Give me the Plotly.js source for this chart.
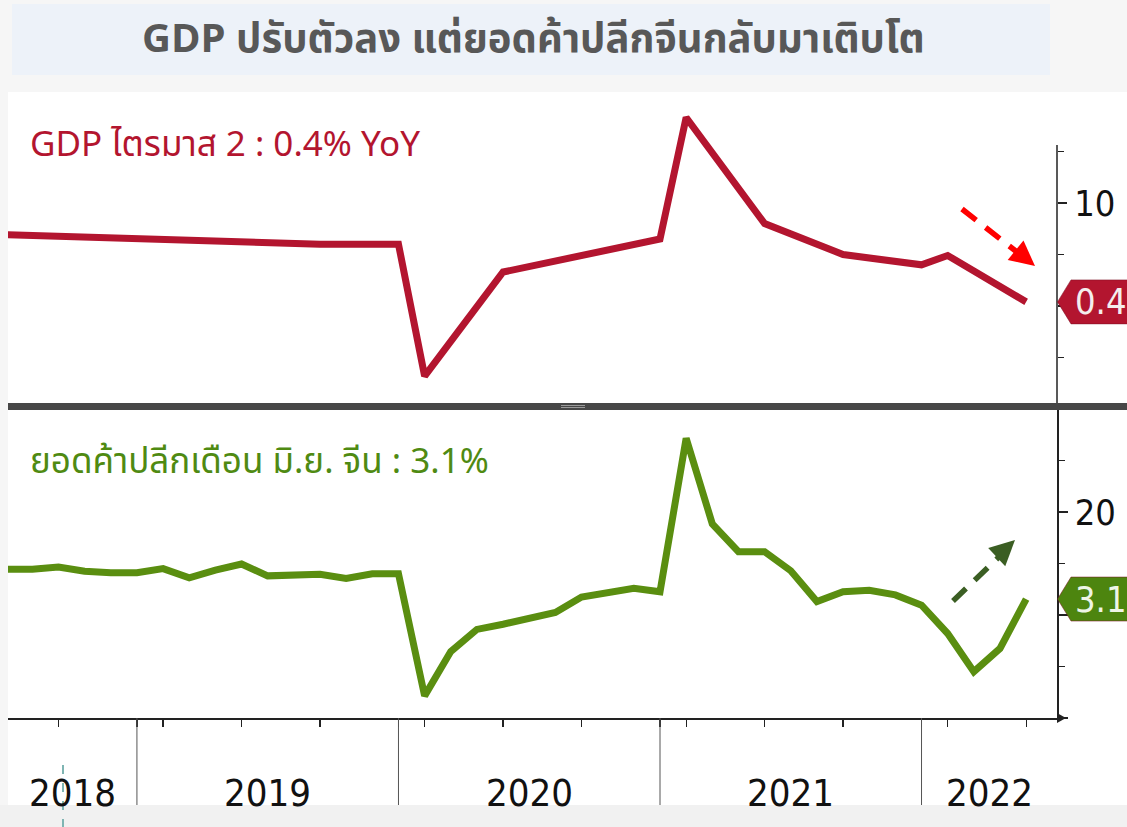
<!DOCTYPE html>
<html>
<head>
<meta charset="utf-8">
<script src="https://cdn.plot.ly/plotly-3.0.1.min.js"></script>
<style>
  html, body { margin: 0; padding: 0; background: #f6f6f6; }
  #chart { width: 1127px; height: 827px; }
</style>
</head>
<body>
<div id="chart"></div>
<script>
// ---------------- DATA ----------------
// Axis positions: one slot per data month (Jan/Feb not reported, so each year runs Mar..Dec)
const axisMonths = [
  '2018-06','2018-07','2018-08','2018-09','2018-10','2018-11','2018-12',
  '2019-03','2019-04','2019-05','2019-06','2019-07','2019-08','2019-09','2019-10','2019-11','2019-12',
  '2020-03','2020-04','2020-05','2020-06','2020-07','2020-08','2020-09','2020-10','2020-11','2020-12',
  '2021-03','2021-04','2021-05','2021-06','2021-07','2021-08','2021-09','2021-10','2021-11','2021-12',
  '2022-03','2022-04','2022-05','2022-06'
];

// China GDP, % YoY (quarterly)
const gdpQuarters = [
  '2018-06','2018-09','2018-12',
  '2019-03','2019-06','2019-09','2019-12',
  '2020-03','2020-06','2020-09','2020-12',
  '2021-03','2021-06','2021-09','2021-12',
  '2022-03','2022-06'
];
const gdpValues = [7.0, 6.8, 6.6, 6.4, 6.2, 6.0, 6.0, -6.8, 3.3, 4.9, 6.5, 18.3, 8.0, 5.0, 4.0, 4.9, 0.4];

// China retail sales, % YoY (monthly)
const retailMonths = axisMonths.slice(1);
const retailValues = [
  8.9, 8.9, 9.3, 8.5, 8.2, 8.2,
  9.0, 7.2, 8.7, 9.9, 7.6, 7.6, 7.9, 7.1, 8.0, 8.0,
  -15.7, -7.1, -2.8, -1.8, -0.8, 0.5, 3.5, 4.3, 5.2, 4.5,
  34.3, 17.7, 12.3, 12.3, 8.6, 2.6, 4.5, 4.8, 3.9, 1.9,
  -3.6, -11.0, -6.5, 3.1
];

const quarterTicks = axisMonths.filter(m => ['03','06','09','12'].includes(m.slice(5)));
const yearSeparators = ['2018-12','2019-12','2020-12','2021-12'];
const yearLabels = ['2018','2019','2020','2021','2022'];

const titleText = 'GDP ปรับตัวลง แต่ยอดค้าปลีกจีนกลับมาเติบโต';
const gdpLabel = 'GDP ไตรมาส 2 : 0.4% YoY';
const retailLabel = 'ยอดค้าปลีกเดือน มิ.ย. จีน : 3.1%';

// ---------------- STYLE / HELPERS ----------------
const W = 1127, H = 827;
const px = x => x / W;
const py = y => 1 - y / H;
const idx = m => axisMonths.indexOf(m);

const RED = '#b3152f';
const GREEN = '#5a8e10';
const TXT_GREEN = '#4f8a12';
const AXIS = '#222';
const NUMFONT = '"Liberation Sans Narrow", "DejaVu Sans Condensed", "Open Sans", sans-serif';
const THAIFONT = '"Noto Sans Thai", "Noto Sans", "Open Sans", sans-serif';

const xRange = [1.07, 41.18];

const traces = [
  {
    x: gdpQuarters.map(idx), y: gdpValues, xaxis: 'x', yaxis: 'y2',
    type: 'scatter', mode: 'lines', line: {color: RED, width: 7}, hoverinfo: 'skip'
  },
  {
    x: retailMonths.map(idx), y: retailValues, xaxis: 'x', yaxis: 'y',
    type: 'scatter', mode: 'lines', line: {color: GREEN, width: 7}, hoverinfo: 'skip'
  }
];

const lastGdp = gdpValues[gdpValues.length - 1];
const lastRetail = retailValues[retailValues.length - 1];

const shapes = [];
// white chart panel
shapes.push({type:'rect', xref:'paper', yref:'paper', x0:px(8), x1:1.01, y0:py(805), y1:py(92),
  fillcolor:'#ffffff', line:{width:0}, layer:'below'});
// title box
shapes.push({type:'rect', xref:'paper', yref:'paper', x0:px(12), x1:px(1050), y0:py(75), y1:py(4),
  fillcolor:'#edf2f9', line:{width:0}, layer:'below'});
// panel separator bar
shapes.push({type:'rect', xref:'paper', yref:'paper', x0:px(8), x1:1.01, y0:py(410), y1:py(403),
  fillcolor:'#474747', line:{width:0}});
shapes.push({type:'line', xref:'paper', yref:'paper', x0:px(561), x1:px(585), y0:py(405.5), y1:py(405.5), line:{color:'#9a9a9a', width:1}});
shapes.push({type:'line', xref:'paper', yref:'paper', x0:px(561), x1:px(585), y0:py(407.5), y1:py(407.5), line:{color:'#9a9a9a', width:1}});
// top panel right axis line
shapes.push({type:'line', xref:'paper', yref:'paper', x0:px(1057), x1:px(1057), y0:py(403), y1:py(145), line:{color:AXIS, width:1.5}});
// x axis end arrow
shapes.push({type:'path', xref:'paper', yref:'paper',
  path:`M ${px(1057)} ${py(713)} L ${px(1066)} ${py(718)} L ${px(1057)} ${py(723)} Z`, fillcolor:AXIS, line:{width:0}});
// year separators below axis
yearSeparators.forEach(m => {
  shapes.push({type:'line', xref:'x', yref:'paper', x0:idx(m), x1:idx(m), y0:py(718), y1:py(805), line:{color:'#555', width:1}});
});
// bottom grey strip
shapes.push({type:'rect', xref:'paper', yref:'paper', x0:0, x1:1.01, y0:0, y1:py(805), fillcolor:'#f1f1f1', line:{width:0}});
// teal cursor line
shapes.push({type:'line', xref:'paper', yref:'paper', x0:px(63), x1:px(63), y0:py(765), y1:0, line:{color:'#7fb5b3', width:2, dash:'dash'}});

// value tags
function tag(yref, val, color) {
  const a = px(1057.5), b = px(1071);
  return {type:'path', xref:'paper', yref:yref, ysizemode:'pixel', yanchor:val,
    path:`M ${a} 0 L ${b} 22 L 1.02 22 L 1.02 -22 L ${b} -22 Z`,
    fillcolor: color, line:{color:'#7a0f20', width:0.5}};
}
shapes.push(tag('y2', lastGdp, RED));
shapes.push(tag('y', lastRetail, '#4d850f'));

// dashed trend arrows (decorative)
shapes.push({type:'line', xref:'paper', yref:'paper', x0:px(962), y0:py(209), x1:px(1022), y1:py(256),
  line:{color:'#ff0000', width:5.5, dash:'18px,12px'}});
shapes.push({type:'line', xref:'paper', yref:'paper', x0:px(953), y0:py(601), x1:px(1003), y1:py(553),
  line:{color:'#3b5e23', width:5.5, dash:'18px,12px'}});

const annotations = [
  {xref:'paper', yref:'paper', x:px(533), y:py(40), text:'<b>' + titleText + '</b>', showarrow:false,
    font:{family:THAIFONT, size:40, color:'#585858'}, xanchor:'center', yanchor:'middle'},
  {xref:'paper', yref:'paper', x:px(28), y:py(145), text:gdpLabel, showarrow:false,
    font:{family:THAIFONT, size:35, color:RED}, xanchor:'left', yanchor:'middle'},
  {xref:'paper', yref:'paper', x:px(28), y:py(462), text:retailLabel, showarrow:false,
    font:{family:THAIFONT, size:35, color:TXT_GREEN}, xanchor:'left', yanchor:'middle'},
  {xref:'paper', yref:'y2', x:px(1073), y:lastGdp, text:lastGdp.toFixed(1), showarrow:false,
    font:{family:NUMFONT, size:36, color:'#f4eded'}, xanchor:'left', yanchor:'middle'},
  {xref:'paper', yref:'y', x:px(1073), y:lastRetail, text:lastRetail.toFixed(1), showarrow:false,
    font:{family:NUMFONT, size:36, color:'#eef5e6'}, xanchor:'left', yanchor:'middle'},
  // arrow heads
  {xref:'paper', yref:'paper', x:px(1035), y:py(266), ax:-16, ay:-13, text:'', showarrow:true,
    arrowhead:2, arrowsize:1, arrowwidth:5, arrowcolor:'#ff0000'},
  {xref:'paper', yref:'paper', x:px(1015), y:py(540), ax:-15, ay:14, text:'', showarrow:true,
    arrowhead:2, arrowsize:1, arrowwidth:5, arrowcolor:'#3b5e23'}
];
// year labels centred between separators
const sepIdx = [xRange[0]].concat(yearSeparators.map(idx)).concat([xRange[1]]);
yearLabels.forEach((yr, i) => {
  annotations.push({xref:'x', yref:'paper', x:(sepIdx[i] + sepIdx[i+1]) / 2, y:py(793), text:yr, showarrow:false,
    font:{family:NUMFONT, size:38, color:'#111'}, xanchor:'center', yanchor:'middle'});
});

const layout = {
  width: W, height: H, autosize: false,
  margin: {l:0, r:0, t:0, b:0, pad:0},
  paper_bgcolor: '#f6f6f6', plot_bgcolor: 'rgba(0,0,0,0)',
  showlegend: false,
  xaxis: {
    domain: [px(8), px(1057)], range: xRange, type: 'linear', anchor: 'y',
    tickmode: 'array', tickvals: quarterTicks.map(idx), ticks: 'outside', ticklen: 7, tickwidth: 1.2, tickcolor: AXIS,
    showticklabels: false, showgrid: false, zeroline: false,
    showline: true, linecolor: AXIS, linewidth: 2, fixedrange: true
  },
  yaxis: {
    domain: [py(718), py(410)], range: [(615-718)/5.15, (615-410)/5.15], anchor: 'x', side: 'right',
    tickmode: 'array', tickvals: [-20, 0, 20], ticktext: ['', '', '20'],
    ticks: 'outside', ticklen: 9, tickwidth: 2.5, tickcolor: AXIS,
    minor: {tickmode:'array', tickvals:[-10, 10, 30], ticks:'outside', ticklen:6, tickwidth:1.2, tickcolor:AXIS, showgrid:false},
    tickfont: {family: NUMFONT, size: 36, color: '#111'},
    showgrid: false, zeroline: false, showline: true, linecolor: AXIS, linewidth: 1.5, fixedrange: true
  },
  yaxis2: {
    domain: [py(403), py(100)], range: [(306-403)/10.3, (306-100)/10.3], anchor: 'x', side: 'right',
    tickmode: 'array', tickvals: [0, 10], ticktext: ['', '10'],
    ticks: 'outside', ticklen: 9, tickwidth: 2.5, tickcolor: AXIS,
    minor: {tickmode:'array', tickvals:[-5, 5, 15], ticks:'outside', ticklen:6, tickwidth:1.2, tickcolor:AXIS, showgrid:false},
    tickfont: {family: NUMFONT, size: 36, color: '#111'},
    showgrid: false, zeroline: false, showline: false, fixedrange: true
  },
  shapes: shapes,
  annotations: annotations
};

Plotly.newPlot('chart', traces, layout, {displayModeBar: false, staticPlot: true});
</script>
</body>
</html>
